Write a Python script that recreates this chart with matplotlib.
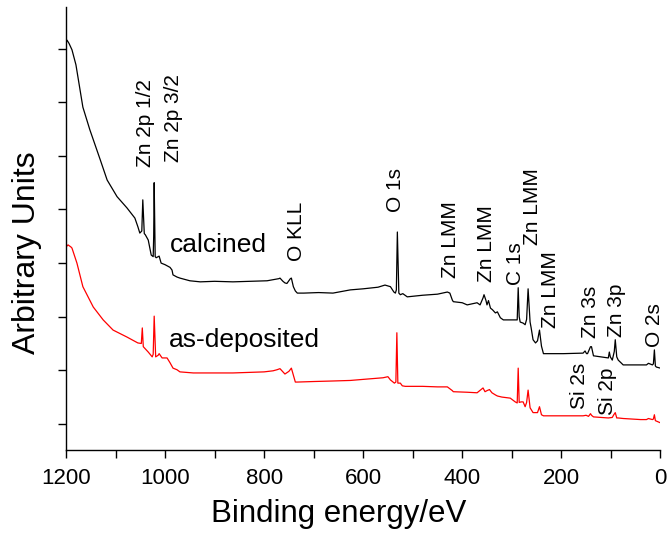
import matplotlib
matplotlib.use("Agg")  # No display
import matplotlib.pyplot as plt  # Plotting

plt.rcParams["font.family"] = ["Liberation Sans", "DejaVu Sans"]  # Arial-like text

# Calcined spectrum (binding energy in eV, intensity in arbitrary units)
calcined_energy = [
    1200, 1198, 1194, 1188, 1180, 1174, 1166, 1152, 1131, 1117, 1097, 1077, 1061, 1055, 1051,
    1047, 1045, 1042, 1040, 1034, 1028, 1024, 1023, 1022, 1020, 1018, 1012, 1008, 1000, 990,
    986, 984, 976, 970, 950, 929, 900, 863, 830, 794, 770, 768, 762, 758, 754, 747, 745, 741,
    737, 733, 720, 690, 661, 626, 600, 570, 556, 545, 538, 535, 533, 531, 528, 525, 520, 511,
    480, 450, 430, 425, 420, 418, 400, 390, 370, 364, 358, 356, 352, 350, 347, 343, 339, 333,
    329, 323, 317, 309, 293, 289, 287, 285, 283, 277, 273, 270, 267, 263, 261, 257, 252, 248,
    244, 240, 238, 236, 220, 196, 156, 152, 149, 147, 141, 139, 135, 120, 105, 103, 101, 97,
    93, 91, 88, 85, 75, 50, 28, 24, 16, 14, 12, 10, 8, 0,
]
calcined_counts = [
    7.10, 7.16, 7.10, 6.98, 6.70, 6.36, 5.91, 5.49, 4.93, 4.55, 4.24, 4.03, 3.84, 3.68, 3.56,
    3.60, 4.18, 3.55, 3.53, 3.43, 3.15, 3.12, 3.50, 4.50, 3.12, 3.10, 3.13, 3.00, 2.97, 2.92,
    2.87, 2.78, 2.74, 2.72, 2.67, 2.65, 2.66, 2.65, 2.66, 2.67, 2.71, 2.72, 2.66, 2.63, 2.62, 2.71, 2.72, 2.56,
    2.48, 2.44, 2.44, 2.45, 2.44, 2.50, 2.52, 2.55, 2.59, 2.56, 2.46, 2.44, 2.50, 3.58, 2.44, 2.41, 2.43, 2.37,
    2.40, 2.42, 2.46, 2.44, 2.31, 2.28, 2.26, 2.22, 2.26, 2.22, 2.35, 2.41, 2.30, 2.22, 2.30, 2.16, 2.13, 2.07,
    2.09, 1.98, 1.94, 1.94, 1.94, 1.94, 2.54, 2.00, 1.90, 1.88, 1.85, 1.95, 2.52, 1.90, 1.80, 1.57, 1.51, 1.55,
    1.75, 1.45, 1.38, 1.31, 1.31, 1.31, 1.32, 1.36, 1.31, 1.31, 1.44, 1.44, 1.27, 1.25, 1.23, 1.34, 1.25, 1.19,
    1.35, 1.57, 1.25, 1.19, 1.10, 1.10, 1.10, 1.13, 1.10, 1.12, 1.38, 1.08, 1.06, 1.04,
]

# As-deposited spectrum
deposited_energy = [
    1200, 1196, 1190, 1188, 1178, 1166, 1145, 1125, 1105, 1077, 1055, 1048, 1046, 1044, 1034,
    1026, 1024, 1022, 1019, 1014, 1012, 1006, 996, 990, 984, 976, 970, 943, 863, 800, 782,
    774, 768, 762, 758, 750, 745, 737, 733, 700, 661, 626, 600, 560, 550, 545, 537, 534, 532,
    530, 525, 521, 515, 480, 450, 430, 420, 418, 390, 370, 358, 354, 350, 345, 340, 333, 329,
    320, 303, 293, 289, 287, 285, 281, 277, 273, 270, 267, 263, 257, 248, 244, 240, 236, 196,
    156, 150, 145, 141, 139, 135, 105, 97, 94, 91, 88, 85, 75, 40, 28, 24, 16, 14, 12, 10, 5, 0,
]
deposited_counts = [
    3.30, 3.34, 3.30, 3.28, 3.00, 2.56, 2.18, 1.94, 1.75, 1.62, 1.51, 1.50, 1.79, 1.44, 1.34,
    1.25, 1.30, 2.01, 1.25, 1.28, 1.31, 1.23, 1.23, 1.14, 1.04, 1.01, 0.97, 0.95, 0.95, 0.97, 0.99,
    1.01, 1.03, 0.97, 0.93, 0.98, 1.04, 0.78, 0.78, 0.79, 0.80, 0.81, 0.83, 0.86, 0.88, 0.82, 0.76, 0.78, 1.70,
    0.76, 0.76, 0.71, 0.70, 0.70, 0.69, 0.69, 0.62, 0.60, 0.59, 0.58, 0.67, 0.60, 0.62, 0.64, 0.58, 0.54, 0.52,
    0.50, 0.48, 0.41, 0.39, 1.04, 0.40, 0.41, 0.41, 0.32, 0.40, 0.63, 0.30, 0.21, 0.21, 0.32, 0.17, 0.15, 0.15,
    0.15, 0.16, 0.14, 0.19, 0.16, 0.13, 0.11, 0.12, 0.17, 0.21, 0.11, 0.11, 0.10, 0.08, 0.08, 0.10, 0.08, 0.09, 0.17, 0.06, 0.04, 0.02,
]

# Peak labels: text, energy, bottom of the label (intensity units)
peak_labels = ["Zn 2p 1/2", "Zn 2p 3/2", "O KLL", "O 1s", "Zn LMM", "Zn LMM", "C 1s",
               "Zn LMM", "Zn LMM", "Zn 3s", "Zn 3p", "O 2s", "Si 2s", "Si 2p"]
peak_energy = [1040, 982, 735, 535, 424, 352, 293, 259, 222, 141, 89, 12, 164, 107]
peak_base = [4.79, 4.89, 3.04, 3.96, 2.72, 2.65, 2.59, 3.34, 1.79, 1.60, 1.62, 1.44, 0.28, 0.17]

fig = plt.figure(figsize=(6.67, 5.33), dpi=100)  # 667x533 px
ax = fig.add_axes([0.099, 0.156, 0.891, 0.831])  # Plot area

ax.plot(calcined_energy, calcined_counts, color="black", lw=0.9)  # Calcined curve
ax.plot(deposited_energy, deposited_counts, color="red", lw=0.9)  # As-deposited curve

for label, energy, base in zip(peak_labels, peak_energy, peak_base):
    ax.text(energy, base, label, rotation=90, ha="center", va="bottom", fontsize=15)  # Peak tag

ax.text(990, 3.21, "calcined", fontsize=19, ha="left", va="baseline")  # Series name
ax.text(992, 1.44, "as-deposited", fontsize=19, ha="left", va="baseline")  # Series name

ax.set_xlim(1200, 0)  # Reversed energy axis
ax.set_ylim(-0.485, 7.78)
ax.set_xticks(range(0, 1201, 100))
ax.set_xticklabels([str(v) if v % 200 == 0 else "" for v in range(0, 1201, 100)])
ax.set_yticks(range(0, 8))
ax.set_yticklabels([])
ax.tick_params(direction="out", length=6, width=1.0, labelsize=16, pad=7)
ax.spines["top"].set_visible(False)
ax.spines["right"].set_visible(False)
for side in ("left", "bottom"):
    ax.spines[side].set_linewidth(1.0)

ax.set_xlabel("Binding energy/eV", fontsize=22.5)
ax.set_ylabel("Arbitrary Units", fontsize=23)
ax.xaxis.set_label_coords(0.458, -0.112)  # Label sits left of centre
ax.yaxis.set_label_coords(-0.040, 0.445)  # Label sits below centre

fig.savefig("out.png", dpi=100)  # Save PNG
